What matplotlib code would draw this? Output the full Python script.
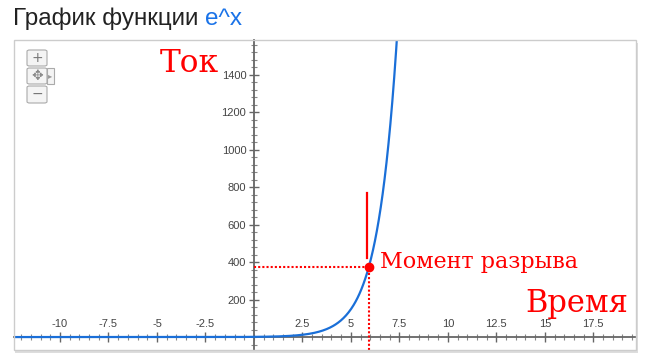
import numpy as np
import matplotlib.pyplot as plt
from matplotlib.patches import Rectangle, FancyBboxPatch
from matplotlib.ticker import MultipleLocator, FixedLocator

# axis ranges and ticks
x_range = [-12.37, 19.7]
y_range = [-69, 1584]
x_ticks = [-10, -7.5, -5, -2.5, 2.5, 5, 7.5, 10, 12.5, 15, 17.5]
x_tick_labels = ["-10", "-7.5", "-5", "-2.5", "2.5", "5", "7.5", "10", "12.5", "15", "17.5"]
y_ticks = [200, 400, 600, 800, 1000, 1200, 1400, 1600]
y_tick_labels = ["200", "400", "600", "800", "1000", "1200", "1400", "1600"]

# the break moment
break_x = [5.92]
break_y = [373]
marker_x = [5.82]
marker_y = [421, 768]

W, H = 650, 358
fig = plt.figure(figsize=(W / 100, H / 100), dpi=100)


def fx(x):
    return x / W


def fy(y):
    return 1 - y / H


# frame with a light shadow
left, right, top, bottom = 14, 636, 40, 350
fig.patches.append(Rectangle((fx(left + 1), fy(bottom + 3)), fx(right - left + 1), (bottom - top) / H,
                             transform=fig.transFigure, facecolor="#dddddd", edgecolor="none", zorder=0))
ax = fig.add_axes([fx(left), fy(bottom), fx(right - left), (bottom - top) / H])
ax.set_zorder(1)
ax.set_facecolor("white")
for s in ["right", "bottom"]:
    ax.spines[s].set_visible(False)
ax.spines["left"].set_position(("data", 0))
ax.spines["top"].set_position(("data", 0))
ax.spines["left"].set_color("#666666")
ax.spines["top"].set_color("#666666")
ax.spines["left"].set_linewidth(1.3)
ax.spines["top"].set_linewidth(1.3)

# border of the chart box
fig.patches.append(Rectangle((fx(left), fy(bottom)), fx(right - left), (bottom - top) / H,
                             transform=fig.transFigure, facecolor="none", edgecolor="#cccccc",
                             lw=1, zorder=5))

ax.set_xlim(x_range)
ax.set_ylim(y_range)

ax.xaxis.set_ticks_position("top")
ax.xaxis.set_major_locator(FixedLocator(x_ticks))
ax.set_xticklabels(x_tick_labels)
ax.xaxis.set_minor_locator(MultipleLocator(0.5))
ax.yaxis.set_major_locator(FixedLocator(y_ticks))
ax.set_yticklabels(y_tick_labels)
ax.yaxis.set_minor_locator(MultipleLocator(40))
ax.tick_params(which="major", direction="inout", length=7, width=1, color="#666666",
               labelsize=8, labelcolor="#444444", pad=2)
ax.tick_params(which="minor", direction="inout", length=4, width=0.8, color="#888888")
for lab in ax.get_yticklabels():
    lab.set_fontfamily("Liberation Sans")
for lab in ax.get_xticklabels():
    lab.set_fontfamily("Liberation Sans")

# the curve e^x
xs = np.linspace(x_range[0], 7.5, 600)
ax.plot(xs, np.exp(xs), color="#1a6fd8", lw=1.6, zorder=4, clip_on=True)

# break moment
ax.plot([0, break_x[0]], [break_y[0], break_y[0]], color="red", lw=1.5, ls=(0, (1, 1)), zorder=5)
ax.plot([break_x[0], break_x[0]], [y_range[0], break_y[0]], color="red", lw=1.5, ls=(0, (1, 1)), zorder=5)
ax.plot(marker_x * 2, marker_y, color="red", lw=1.6, zorder=5)
ax.plot(break_x, break_y, "o", color="red", ms=6, zorder=6)

serif = "DejaVu Serif"
fig.text(fx(160), fy(72), "Ток", color="red", fontsize=22.5, family=serif, zorder=8)
fig.text(fx(525), fy(312), "Время", color="red", fontsize=22, family=serif, zorder=8)
fig.text(fx(380), fy(268), "Момент разрыва", color="red", fontsize=16, family=serif, zorder=8)

# title
t = fig.text(fx(13), fy(25), "График функции ", fontsize=17.5, family="Liberation Sans", color="#222222")
fig.canvas.draw()
bb = t.get_window_extent()
fig.text(bb.x1 / W, fy(25), "e^x", fontsize=17.5, family="Liberation Sans", color="#1a73e8")

# zoom widget
for (y0, h) in [(50, 16), (68, 16), (86, 17)]:
    fig.patches.append(FancyBboxPatch((fx(27), fy(y0 + h)), fx(20), h / H,
                                      boxstyle="round,pad=0,rounding_size=0.004",
                                      transform=fig.transFigure, facecolor="#f4f4f4",
                                      edgecolor="#aaaaaa", lw=0.8, zorder=6))
fig.patches.append(Rectangle((fx(47), fy(84)), fx(7), 16 / H, transform=fig.transFigure,
                             facecolor="#f4f4f4", edgecolor="#aaaaaa", lw=0.8, zorder=6))
fig.text(fx(37), fy(58), "+", ha="center", va="center", fontsize=10, color="#777777", zorder=7)
fig.text(fx(37), fy(76), "✥", ha="center", va="center", fontsize=10, color="#888888", zorder=7,
         family="DejaVu Sans")
fig.text(fx(37), fy(94), "−", ha="center", va="center", fontsize=10, color="#777777", zorder=7)
fig.text(fx(50.5), fy(76), "▸", ha="center", va="center", fontsize=6, color="#999999", zorder=7)

fig.savefig("out.png", dpi=100)
